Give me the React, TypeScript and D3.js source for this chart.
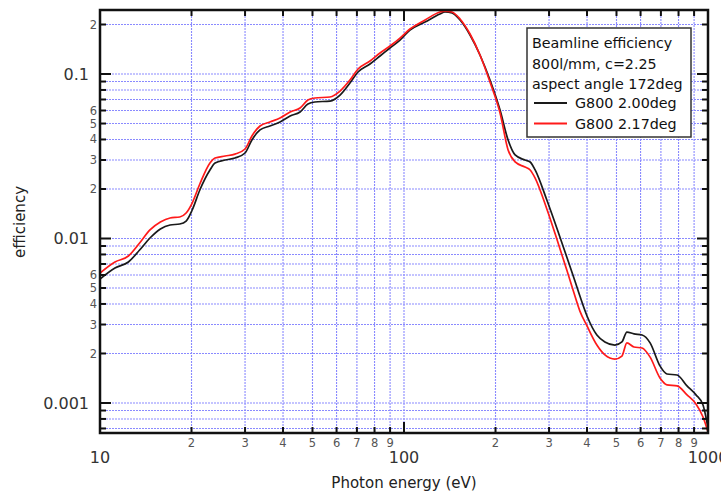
import React from "react";
import * as d3 from "d3";

const energy = [10.0, 11.2, 12.4, 13.5, 14.6, 15.8, 17.0, 18.3, 19.2, 20.1, 21.3, 23.0, 23.9, 25.8, 27.8, 30.0, 31.6, 33.6, 36.2, 39.1, 42.2, 45.5, 48.3, 50.9, 57.1, 61.6, 66.4, 70.6, 77.3, 83.4, 89.9, 97.0, 104.6, 117.3, 131.3, 136.4, 143.9, 152.9, 164.9, 177.8, 191.8, 207, 220, 232, 250, 260, 270, 295, 319, 344, 365, 379, 400, 431, 458, 494, 521, 541, 571, 607, 645, 695, 733, 791, 853, 913, 963, 1000];

const effG200 = [0.00567, 0.00662, 0.0072, 0.00851, 0.01007, 0.01143, 0.01208, 0.01225, 0.01277, 0.0149, 0.01972, 0.02608, 0.02876, 0.03, 0.03085, 0.0331, 0.0397, 0.0457, 0.0483, 0.0511, 0.0556, 0.0588, 0.0657, 0.0676, 0.0685, 0.0745, 0.0882, 0.1028, 0.115, 0.1287, 0.1439, 0.1609, 0.1851, 0.2071, 0.2316, 0.2382, 0.2349, 0.213, 0.1726, 0.1305, 0.0919, 0.0604, 0.0397, 0.0322, 0.03, 0.0292, 0.0261, 0.01714, 0.01143, 0.00761, 0.00552, 0.00447, 0.00338, 0.00259, 0.00235, 0.00225, 0.00235, 0.0027, 0.00263, 0.00259, 0.00232, 0.00168, 0.0015, 0.00148, 0.00127, 0.00112, 0.000972, 0.000705];

const effG217 = [0.00617, 0.0072, 0.00783, 0.00939, 0.01127, 0.0126, 0.01333, 0.01352, 0.01429, 0.01643, 0.02144, 0.02876, 0.03085, 0.03172, 0.0326, 0.035, 0.042, 0.0483, 0.0511, 0.054, 0.0588, 0.0621, 0.0695, 0.0715, 0.0725, 0.0788, 0.0919, 0.1072, 0.12, 0.1342, 0.148, 0.1655, 0.1877, 0.213, 0.2382, 0.2415, 0.2382, 0.216, 0.1751, 0.1305, 0.0894, 0.0579, 0.0345, 0.0292, 0.0272, 0.0261, 0.0233, 0.01511, 0.00979, 0.00634, 0.00447, 0.00362, 0.00294, 0.00225, 0.00196, 0.00185, 0.00193, 0.00232, 0.00219, 0.00216, 0.0019, 0.00142, 0.00129, 0.00127, 0.00112, 0.000986, 0.000822, 0.000667];

const seriesNames = ["G800 2.00deg", "G800 2.17deg"];
const seriesColors = ["#1a1a1a", "#ff1a1a"];
const legendTitle = ["Beamline efficiency", "800l/mm, c=2.25", "aspect angle 172deg"];
const xMajorTicks = [10, 100, 1000];
const yMajorTicks = [0.001, 0.01, 0.1];
const xLabelledMinor = [2, 3, 4, 5, 6, 7, 8, 9];
const yLabelledMinor = [2, 3, 4, 5, 6];

const W = 721, H = 492;
const L = 100, R = 708, T = 10, B = 433;
const FONT = "'DejaVu Sans', Verdana, sans-serif";

export default function App() {
  const x = d3.scaleLog().domain([10, 1000]).range([L, R]);
  const y = d3.scaleLog().domain([0.000657, 0.245]).range([B, T]);

  const xGrid: { v: number; m: number; d: number }[] = [];
  [10, 100].forEach((d) => {
    for (let m = 1; m <= 9; m++) {
      const v = m * d;
      if (v >= 10 && v <= 1000) xGrid.push({ v, m, d });
    }
  });
  xGrid.push({ v: 1000, m: 1, d: 1000 });
  const yGrid: { v: number; m: number; d: number }[] = [];
  [0.0001, 0.001, 0.01, 0.1].forEach((d) => {
    for (let m = 1; m <= 9; m++) {
      const v = m * d;
      if (v >= 0.000657 && v <= 0.245) yGrid.push({ v, m, d });
    }
  });

  const line = d3
    .line<number>()
    .x((_, i) => x(energy[i]))
    .y((v) => y(v))
    .curve(d3.curveMonotoneX);

  const series = [effG200, effG217];
  const gridColor = "#6464ff";
  const fmtY = (v: number) => (v === 0.1 ? "0.1" : v === 0.01 ? "0.01" : "0.001");

  return (
    <svg width={W} height={H} style={{ position: "absolute", left: 0, top: 0, background: "#fff" }} fontFamily={FONT}>
      <defs>
        <clipPath id="plot">
          <rect x={L} y={T} width={R - L} height={B - T} />
        </clipPath>
      </defs>
      <rect x={0} y={0} width={W} height={H} fill="#fff" />
      {/* grid */}
      <g stroke={gridColor} strokeWidth={1.1} strokeDasharray="2,1" opacity={0.75}>
        {xGrid.map((g, i) => (
          <line key={"xg" + i} x1={x(g.v)} x2={x(g.v)} y1={T} y2={B} />
        ))}
        {yGrid.map((g, i) => (
          <line key={"yg" + i} x1={L} x2={R} y1={y(g.v)} y2={y(g.v)} />
        ))}
      </g>
      {/* series */}
      <g clipPath="url(#plot)" fill="none">
        {series.map((s, i) => (
          <path key={"s" + i} d={line(s) || ""} stroke={seriesColors[i]} strokeWidth={1.7} strokeLinejoin="round" />
        ))}
      </g>
      {/* ticks */}
      <g stroke="#111" strokeWidth={2}>
        {xGrid.map((g, i) => {
          const len = g.m === 1 ? 11 : 6;
          const px = x(g.v);
          return (
            <g key={"xt" + i}>
              <line x1={px} x2={px} y1={B} y2={B - len} />
              <line x1={px} x2={px} y1={T} y2={T + len} />
            </g>
          );
        })}
        {yGrid.map((g, i) => {
          const len = g.m === 1 ? 11 : 6;
          const py = y(g.v);
          return (
            <g key={"yt" + i}>
              <line x1={L} x2={L + len} y1={py} y2={py} />
              <line x1={R} x2={R - len} y1={py} y2={py} />
            </g>
          );
        })}
      </g>
      {/* frame */}
      <rect x={L} y={T} width={R - L} height={B - T} fill="none" stroke="#111" strokeWidth={2.5} />
      {/* x labels */}
      <g textAnchor="middle">
        {xMajorTicks.map((v) => (
          <text key={"xl" + v} x={x(v)} y={463} fontSize={16} fill="#333">
            {v}
          </text>
        ))}
        {xGrid
          .filter((g) => g.m !== 1 && xLabelledMinor.includes(g.m))
          .map((g, i) => (
            <text key={"xm" + i} x={x(g.v)} y={447} fontSize={11.5} fill="#555">
              {g.m}
            </text>
          ))}
      </g>
      {/* y labels */}
      <g textAnchor="end">
        {yMajorTicks.map((v) => (
          <text key={"yl" + v} x={89} y={y(v)} dy="0.35em" fontSize={16} fill="#333">
            {fmtY(v)}
          </text>
        ))}
        {yGrid
          .filter((g) => g.m !== 1 && yLabelledMinor.includes(g.m))
          .map((g, i) => (
            <text key={"ym" + i} x={97} y={y(g.v)} dy="0.35em" fontSize={11.5} fill="#555">
              {g.m}
            </text>
          ))}
      </g>
      {/* axis titles */}
      <text x={404} y={488} textAnchor="middle" fontSize={15} fill="#222">
        Photon energy (eV)
      </text>
      <text transform={`translate(25,222) rotate(-90)`} textAnchor="middle" fontSize={15} fill="#222">
        efficiency
      </text>
      {/* legend */}
      <g>
        <rect x={527} y={28} width={164} height={109} fill="#fff" stroke="#333" strokeWidth={1.5} />
        {legendTitle.map((t, i) => (
          <text key={"lt" + i} x={532} y={48 + i * 20.5} fontSize={14.3} fill="#111">
            {t}
          </text>
        ))}
        {seriesNames.map((n, i) => (
          <g key={"ls" + i}>
            <line x1={534} x2={567} y1={103 + i * 20.5} y2={103 + i * 20.5} stroke={seriesColors[i]} strokeWidth={1.8} />
            <text x={575} y={108 + i * 20.5} fontSize={14.3} fill="#111">
              {n}
            </text>
          </g>
        ))}
      </g>
    </svg>
  );
}
